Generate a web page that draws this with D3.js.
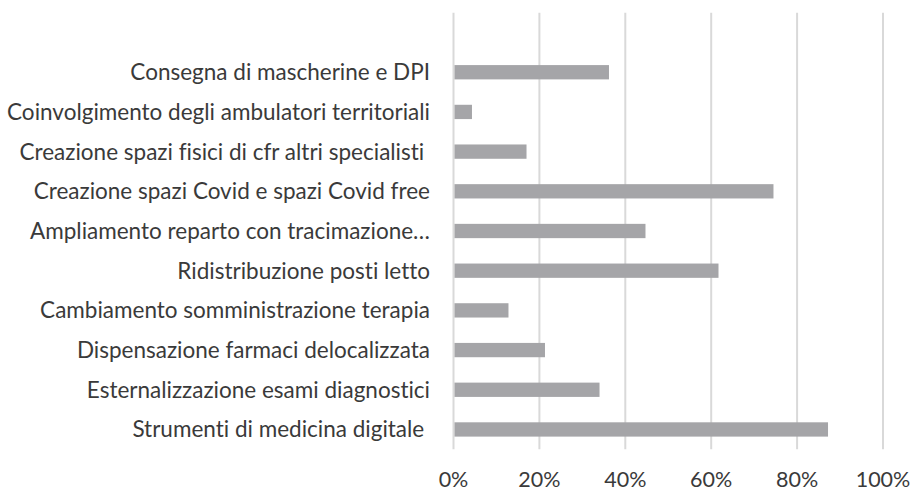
<!DOCTYPE html>
<html>
<head>
<meta charset="utf-8">
<script src="https://cdn.jsdelivr.net/npm/d3@7/dist/d3.min.js"></script>
<style>
  html, body { margin: 0; padding: 0; background: #ffffff; }
  svg { display: block; }
  text { font-family: Lato, "Open Sans", sans-serif; fill: #3a3a3a; font-variant-ligatures: none; font-feature-settings: "liga" 0, "clig" 0, "dlig" 0; }
</style>
</head>
<body>
<svg id="chart" width="913" height="490"></svg>
<script>
// Categories, top to bottom
const categories = [
  "Consegna di mascherine e DPI",
  "Coinvolgimento degli ambulatori territoriali",
  "Creazione spazi fisici di cfr altri specialisti\u00a0",
  "Creazione spazi Covid e spazi Covid free",
  "Ampliamento reparto con tracimazione\u2026",
  "Ridistribuzione posti letto",
  "Cambiamento somministrazione terapia",
  "Dispensazione farmaci delocalizzata",
  "Esternalizzazione esami diagnostici",
  "Strumenti di medicina digitale\u00a0"
];
// Share of respondents (%)
const values = [36.2, 4.3, 17.0, 74.5, 44.7, 61.7, 12.8, 21.3, 34.0, 87.2];
// X-axis ticks
const tickValues = [0, 20, 40, 60, 80, 100];
const tickLabels = ["0%", "20%", "40%", "60%", "80%", "100%"];

const svg = d3.select("#chart");
const plot = { left: 453.5, right: 883, top: 12.7, bottom: 449.3 };

const x = d3.scaleLinear().domain([0, 100]).range([plot.left, plot.right]);

// One empty slot sits above the first category
const slots = ["__blank__"].concat(categories);
const y = d3.scaleBand().domain(slots).range([plot.top, plot.bottom]).padding(0);
const barH = 14.3;

// Vertical gridlines
svg.append("g").selectAll("line")
  .data(tickValues)
  .join("line")
  .attr("x1", d => x(d)).attr("x2", d => x(d))
  .attr("y1", plot.top).attr("y2", plot.bottom)
  .attr("stroke", "#d9d9d9")
  .attr("stroke-width", 2);

// Bars
svg.append("g").selectAll("rect")
  .data(categories)
  .join("rect")
  .attr("x", x(0) + 1)
  .attr("y", d => y(d) + (y.bandwidth() - barH) / 2)
  .attr("width", (d, i) => x(values[i]) - x(0) - 1)
  .attr("height", barH)
  .attr("fill", "#a5a5a8");

// Category labels
svg.append("g").selectAll("text")
  .data(categories)
  .join("text")
  .attr("x", 430)
  .attr("y", d => y(d) + y.bandwidth() / 2 + 8)
  .attr("text-anchor", "end")
  .attr("font-size", 22.5)
  .style("white-space", "pre")
  .text(d => d);

// X-axis tick labels
svg.append("g").selectAll("text")
  .data(tickValues)
  .join("text")
  .attr("x", d => x(d))
  .attr("y", 486.5)
  .attr("text-anchor", "middle")
  .attr("font-size", 21.5)
  .text((d, i) => tickLabels[i]);
</script>
</body>
</html>
